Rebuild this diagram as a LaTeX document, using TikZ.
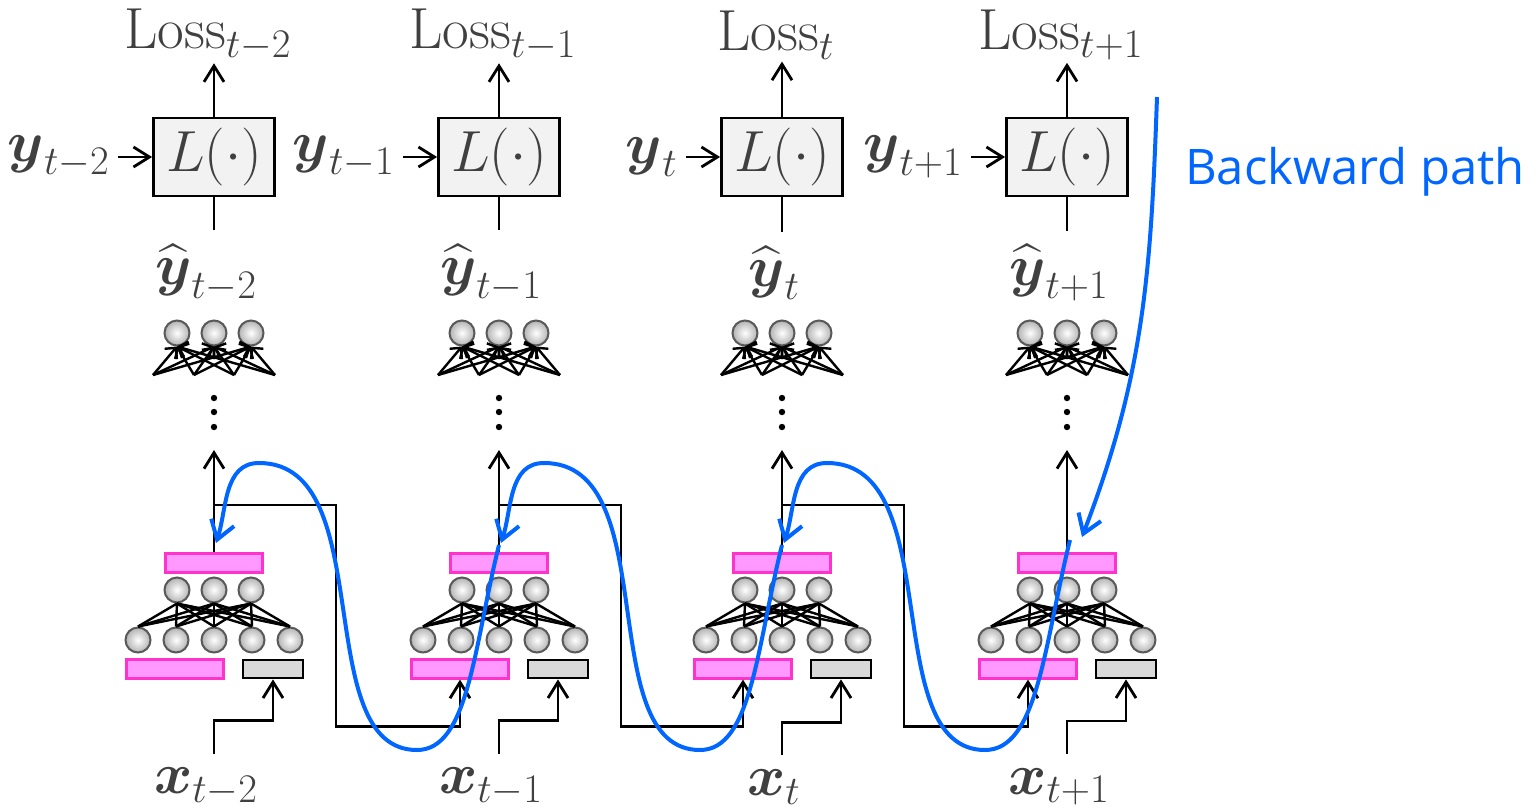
\RequirePackage{fix-cm}
\documentclass[tikz,border=0pt]{standalone}
\usepackage{amsmath}
\usepackage{fontspec}
\newfontfamily\bpfont{Open Sans}
\usetikzlibrary{arrows.meta, positioning, calc}
\definecolor{txtgray}{RGB}{64,64,64}
\definecolor{bpblue}{RGB}{0,102,255}
\definecolor{pinkfill}{RGB}{255,153,255}
\definecolor{pinkline}{RGB}{255,51,204}
\definecolor{lossfill}{RGB}{242,242,242}
\definecolor{inpfill}{RGB}{217,217,217}
\tikzset{
  lbox/.style ={rectangle, draw, line width=1.4pt, fill=lossfill, minimum width=60.5pt, minimum height=39pt, inner sep=0pt, text=txtgray},
  mlbl/.style ={text=txtgray, inner sep=1pt, font=\fontsize{29}{34}\selectfont},
  pbar/.style ={rectangle, draw=pinkline, line width=1.1pt, fill=pinkfill, minimum width=48.5pt, minimum height=9.5pt, inner sep=0pt},
  gbar/.style ={rectangle, draw, line width=1.4pt, fill=inpfill, minimum width=30pt, minimum height=9pt, inner sep=0pt},
  neur/.style ={circle, draw=black!65, line width=1pt, shade, inner color=white, outer color=gray!60, minimum size=12.5pt, inner sep=0pt},
  fl/.style   ={-{Straight Barb[length=8pt, width=10pt]}, line width=1.4pt},
  ln/.style   ={line width=1.4pt},
  wt/.style   ={line width=1.2pt},
  fan/.style  ={-{Straight Barb[length=4pt, width=8pt]}, line width=1.2pt},
  bwd/.style  ={-{Straight Barb[length=9pt, width=12pt]}, draw=bpblue, line width=2pt},
}
\begin{document}
\begin{tikzpicture}[x=0.5pt, y=0.5pt]
  \useasboundingbox (0,0) rectangle (1538,-811);
  % one column per time step
  \foreach \i/\cx/\s in {1/214/t-2, 2/499/t-1, 3/782/t, 4/1067/t+1}{
    \node[lbox] (L\i) at (\cx,-157) {\fontsize{29}{34}\selectfont$L(\cdot)$};
    \node[mlbl] (loss\i) at (\cx-6,-35) {$\mathrm{Loss}_{\s}$};
    \node[mlbl, left=20pt of L\i] (y\i) {$\boldsymbol{y}_{\s}$};
    \node[mlbl] (yh\i) at (\cx-8,-273) {$\widehat{\boldsymbol{y}}_{\s}$};
    \draw[fl] (L\i.north) -- (L\i.north |- loss\i.south);
    \draw[fl, shorten <=3pt] (y\i) -- (L\i);
    \draw[ln, shorten >=6pt] (L\i.south) -- (L\i.south |- yh\i.north);
    % output layer
    \foreach \k/\dx in {1/-37, 2/0, 3/37}
      \node[neur] (o\i\k) at (\cx+\dx,-333) {};
    \foreach \j/\dx in {1/-61, 2/-20, 3/20, 4/61}{
      \coordinate (f\i\j) at (\cx+\dx,-375);
      \foreach \k in {1,2,3}
        \draw[fan] (f\i\j) -- (o\i\k.south);
    }
    \foreach \dy in {398,412,427}
      \fill (\cx,-\dy) circle (1.6pt);
    % hidden block
    \node[pbar] (pt\i) at (\cx,-563) {};
    \foreach \k/\dx in {1/-37, 2/0, 3/37}
      \node[neur] (h\i\k) at (\cx+\dx,-590) {};
    \foreach \k/\dx in {1/-76, 2/-38, 3/0, 4/38, 5/76}
      \node[neur] (g\i\k) at (\cx+\dx,-640) {};
    \foreach \a in {1,2,3}
      \foreach \b in {1,...,5}
        \draw[wt] (h\i\a.south) -- (g\i\b.north);
    \node[pbar] (pb\i) at (\cx-39,-669) {};
    \node[gbar] (gx\i) at (\cx+59,-669) {};
    \coordinate (up\i) at (\cx,-450);
    \coordinate (r\i) at (\cx,-505);
    \draw[fl] (pt\i.north) -- (up\i);
    % input
    \node[mlbl] (x\i) at (\cx-8,-787) {$\boldsymbol{x}_{\s}$};
    \draw[fl] ($(pt\i |- x\i.north)+(0,12)$) -- ++(0,33) -| (gx\i.south);
    % backward path points
    \coordinate (b\i) at (\cx+2,-543);
    \coordinate (tr\i) at (\cx-82,-750);
    \coordinate (pk\i) at (\cx+45,-463);
  }
  % recurrent links
  \foreach \i/\j in {1/2, 2/3, 3/4}
    \draw[fl] (r\i) -- ++(122,0) |- ($(pb\j.south)+(0,-47)$) -- (pb\j.south);
  % backward path
  \coordinate (bs) at (1157,-97);
  \coordinate (b4) at (1082,-537);
  \coordinate (s4) at (1070,-540);
  \coordinate (s3) at (782,-545);
  \coordinate (s2) at (499,-545);
  \draw[bwd] (bs) to[out=-92, in=69] (b4);
  \foreach \i/\j in {4/3, 3/2, 2/1}
    \draw[bwd] (s\i) to[out=-104, in=0, out looseness=1.2, in looseness=0.6] (tr\i)
      to[out=180, in=0, out looseness=0.85, in looseness=0.95] (pk\j)
      to[out=180, in=72] (b\j);
  \node[text=bpblue, font=\bpfont\fontsize{24.5}{30}\selectfont, anchor=west] (bp) at (1178,-172) {Backward path};
\end{tikzpicture}
\end{document}
